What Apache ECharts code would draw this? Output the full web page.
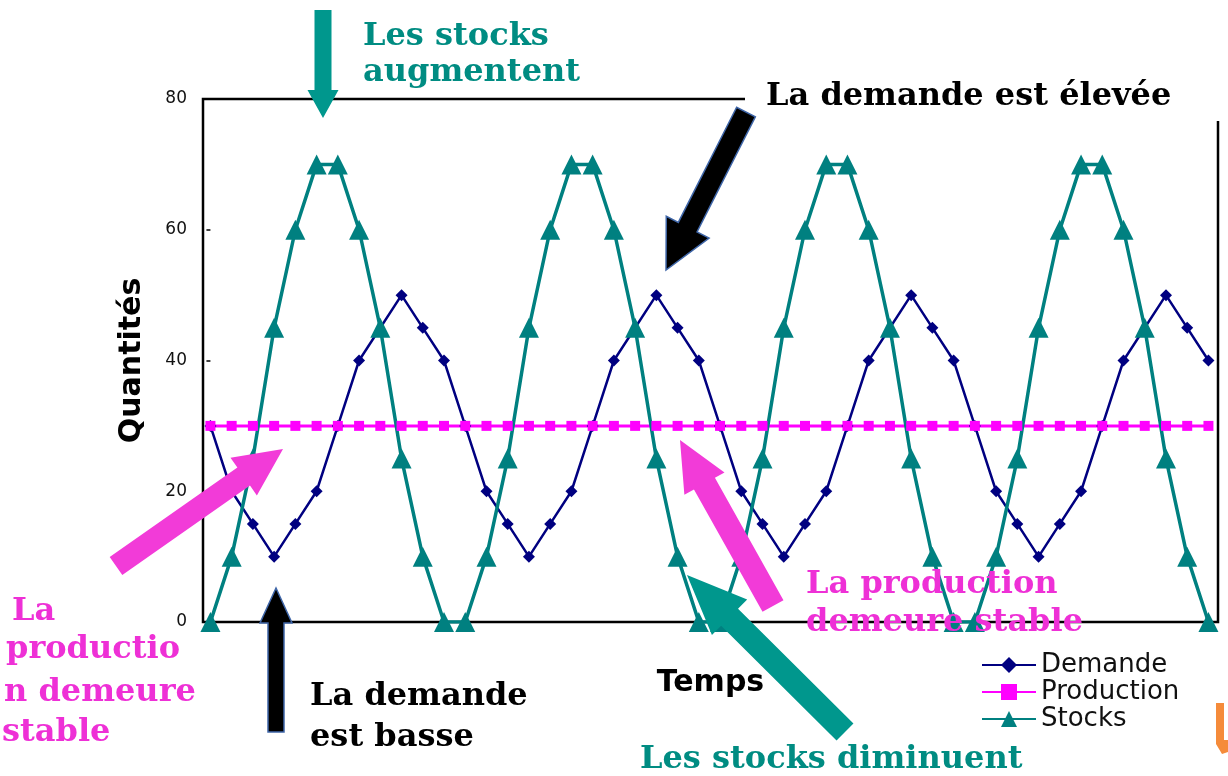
<!DOCTYPE html>
<html><head><meta charset="utf-8">
<script src="https://cdn.jsdelivr.net/npm/echarts@6/dist/echarts.min.js"></script>
<style>html,body{margin:0;padding:0;background:#fff}#c{width:1228px;height:776px}</style>
</head><body><div id="c"></div>
<script>
// Data (time periods 0..47)
const seriesNames = ['Demande', 'Production', 'Stocks'];
const demande = [
  30,20,15,10,15,20,30,40,null,50,45,40,
  30,20,15,10,15,20,30,40,null,50,45,40,
  30,20,15,10,15,20,30,40,null,50,45,40,
  30,20,15,10,15,20,30,40,null,50,45,40
];
const production = [
  30,30,30,30,30,30,30,30,30,30,30,30,
  30,30,30,30,30,30,30,30,30,30,30,30,
  30,30,30,30,30,30,30,30,30,30,30,30,
  30,30,30,30,30,30,30,30,30,30,30,30
];
const stocks = [
  0,10,25,45,60,70,70,60,45,25,10,0,
  0,10,25,45,60,70,70,60,45,25,10,0,
  0,10,25,45,60,70,70,60,45,25,10,0,
  0,10,25,45,60,70,70,60,45,25,10,0
];
const yTicks = [0, 20, 40, 60, 80];
const yTitle = 'Quantités';
const xTitle = 'Temps';

const toPairs = arr => arr.map((v, i) => [i, v]);

const SERIF = 'bold 32px "DejaVu Serif"';
const MAG = '#ee30d6', TEAL_T = '#008c82', TEAL_A = '#00978d';

function arrow(x1, y1, x2, y2, sw, hw, hl) {
  const dx = x2 - x1, dy = y2 - y1, L = Math.hypot(dx, dy);
  const ux = dx / L, uy = dy / L, nx = -uy, ny = ux;
  const bx = x2 - ux * hl, by = y2 - uy * hl;
  return [
    [x1 + nx * sw / 2, y1 + ny * sw / 2], [bx + nx * sw / 2, by + ny * sw / 2],
    [bx + nx * hw / 2, by + ny * hw / 2], [x2, y2],
    [bx - nx * hw / 2, by - ny * hw / 2], [bx - nx * sw / 2, by - ny * sw / 2],
    [x1 - nx * sw / 2, y1 - ny * sw / 2]
  ];
}
function poly(points, fill, stroke) {
  return { type: 'polygon', z: 100, shape: { points }, style: { fill, stroke: stroke || null, lineWidth: stroke ? 1.5 : 0 } };
}
function txt(text, x, y, fill, align, font) {
  return { type: 'text', z: 110, x, y, style: { text, fill, font: font || SERIF,
    align: align || 'left', textAlign: align || 'left', verticalAlign: 'middle', textVerticalAlign: 'middle' } };
}

const graphics = [
  // white box hiding part of the frame behind the top-right label
  { type: 'rect', z: 50, shape: { x: 745, y: 88, width: 483, height: 33 }, style: { fill: '#fff' } },
  poly(arrow(323, 10, 323, 118, 17, 31, 28), TEAL_A),
  poly(arrow(746, 112, 666, 270, 21, 48, 48), '#000', '#3f66a8'),
  poly(arrow(116, 566, 283, 449, 22, 46, 48), '#f23bd8'),
  poly(arrow(276, 732, 276, 588, 16, 32, 35), '#000', '#3f66a8'),
  poly(arrow(845, 732, 687, 575, 24, 50, 60), TEAL_A),
  poly(arrow(773, 606, 680, 440, 24, 46, 50), '#f23bd8'),
  poly([[1216, 703], [1224, 703], [1224, 740], [1228, 740], [1228, 752], [1222, 754], [1216, 744]], '#f58b3a'),
  txt('Les stocks', 363, 37, TEAL_T),
  txt('augmentent', 363, 73, TEAL_T),
  txt('La demande est élevée', 766, 97, '#000'),
  txt('La', 12, 612, MAG),
  txt('productio', 6, 650, MAG),
  txt('n demeure', 4, 693, MAG),
  txt('stable', 2, 733, MAG),
  txt('La demande', 310, 697, '#000'),
  txt('est basse', 310, 738, '#000'),
  txt('La production', 806, 585, MAG),
  txt('demeure stable', 806, 623, MAG),
  txt('Les stocks diminuent', 640, 760, TEAL_T)
];

const chart = echarts.init(document.getElementById('c'));
chart.setOption({
  animation: false,
  backgroundColor: '#fff',
  grid: { left: 203, right: 10, top: 99, bottom: 154, show: true, borderColor: '#000', borderWidth: 2.5, backgroundColor: 'transparent' },
  xAxis: {
    type: 'value', min: -0.35, max: 47.45,
    axisLine: { show: false }, axisTick: { show: false }, axisLabel: { show: false }, splitLine: { show: false },
    name: xTitle, nameLocation: 'middle', nameGap: 46,
    nameTextStyle: { fontFamily: 'DejaVu Sans', fontWeight: 'bold', fontSize: 30, color: '#000' }
  },
  yAxis: {
    type: 'value', min: yTicks[0], max: yTicks[yTicks.length - 1], interval: yTicks[1] - yTicks[0],
    axisLine: { show: false },
    axisTick: { show: true, length: 4, lineStyle: { color: '#000', width: 1.5 } },
    axisLabel: { fontFamily: 'DejaVu Sans', fontSize: 17, color: '#111', margin: 16 },
    splitLine: { show: false },
    name: yTitle, nameLocation: 'middle', nameGap: 56, nameRotate: 90,
    nameTextStyle: { fontFamily: 'DejaVu Sans', fontWeight: 'bold', fontSize: 30, color: '#000' }
  },
  legend: {
    orient: 'vertical', left: 976, top: 647, itemWidth: 54, itemHeight: 20, itemGap: 1,
    data: seriesNames,
    textStyle: { fontFamily: 'DejaVu Sans', fontSize: 26, color: '#111', lineHeight: 26 }
  },
  series: [
    { name: seriesNames[0], type: 'line', data: toPairs(demande), connectNulls: true,
      symbol: 'diamond', symbolSize: 12, color: '#000080',
      lineStyle: { color: '#000080', width: 2.5 }, itemStyle: { color: '#000080' } },
    { name: seriesNames[1], type: 'line', data: toPairs(production),
      symbol: 'rect', symbolSize: 10, color: '#ff00ff',
      lineStyle: { color: '#ff00ff', width: 3 }, itemStyle: { color: '#ff00ff' } },
    { name: seriesNames[2], type: 'line', data: toPairs(stocks),
      symbol: 'triangle', symbolSize: 20, color: '#008080',
      lineStyle: { color: '#008080', width: 3.5 }, itemStyle: { color: '#008080' } }
  ],
  graphic: graphics
});
</script>
</body></html>
